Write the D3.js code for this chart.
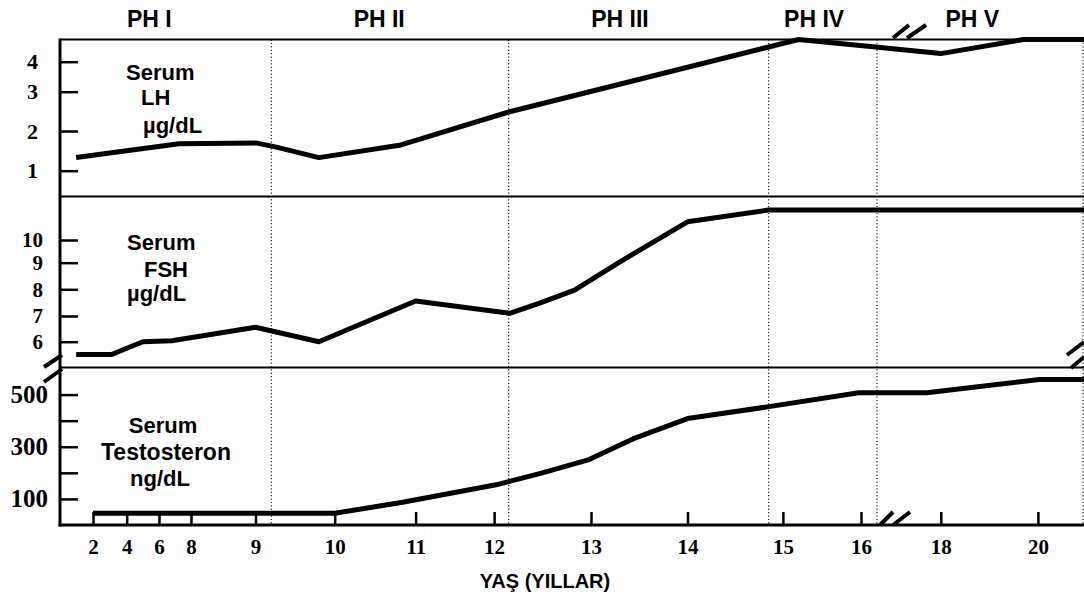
<!DOCTYPE html>
<html><head><meta charset="utf-8">
<script src="https://cdn.jsdelivr.net/npm/d3@7"></script>
<style>
html,body{margin:0;padding:0;background:#fff;}
svg{display:block;}
</style></head><body>
<svg id="chart" width="1084" height="603"></svg>
<script>
// Age axis (years); the figure stretches the axis unevenly
const ageTicks = [2, 4, 6, 8, 9, 10, 11, 12, 13, 14, 15, 16, 18, 20];

// Puberty phases
const phaseNames = ["PH I", "PH II", "PH III", "PH IV", "PH V"];
const phaseLabelAges = [5.4, 10.55, 13.3, 15.4, 18.65];
const phaseBounds = [9.2, 12.15, 14.85, 16.4];

// Serum LH (µg/dL)
const lhAges   = [1.0, 7.25, 9.0, 9.25, 9.8, 10.8, 12.16, 15.2, 16.3, 18.0, 19.7, 20.95];
const lhValues = [1.33, 1.68, 1.70, 1.60, 1.33, 1.64, 2.49, 4.74, 4.5, 4.27, 4.74, 4.74];
const lhTicks  = [1, 2, 3, 4];

// Serum FSH (µg/dL)
const fshAges   = [1.0, 3.1, 5.0, 6.8, 9.0, 9.8, 11.0, 12.16, 12.47, 12.83, 13.3, 14.0, 14.85, 20.95];
const fshValues = [5.5, 5.5, 6.0, 6.04, 6.56, 6.0, 7.56, 7.1, 7.48, 7.97, 9.04, 10.8, 11.32, 11.32];
const fshTicks  = [6, 7, 8, 9, 10];

// Serum testosteron (ng/dL)
const tesAges   = [2, 10, 10.84, 12.02, 12.47, 12.98, 13.44, 14.0, 14.82, 15.97, 17.65, 20.03, 20.95];
const tesValues = [45, 45, 87, 154, 197, 251, 331, 408, 452, 507, 507, 558, 558];
const tesTicks  = [100, 200, 300, 400, 500];
const tesTickLabels = ["100", "", "300", "", "500"];

const panelTitles = [
  ["Serum", "LH", "\u00b5g/dL"],
  ["Serum", "FSH", "\u00b5g/dL"],
  ["Serum", "Testosteron", "ng/dL"]
];

// ---- layout ----
const W = 1084, H = 603;
const L = 60, R = 1084;
const yTop = 39.5, yDiv1 = 196.5, yDiv2 = 367.5, yAxis = 525;
const ageStops = [93, 126.7, 159, 191, 255.5, 334.7, 415.6, 494.1, 591, 687.5, 782.9, 861, 940.8, 1037.9];

const SANS = "'Liberation Sans', Arial, Helvetica, sans-serif";
const SERIF = "'Liberation Serif', 'Times New Roman', serif";

const svg = d3.select("#chart");
svg.append("rect").attr("width", W).attr("height", H).attr("fill", "#fff");

const x = d3.scaleLinear().domain(ageTicks).range(ageStops);
const yLH = d3.scaleLinear().domain(lhTicks).range([170.7, 131, 91.7, 61.7]);
const yFSH = d3.scaleLinear().domain(fshTicks).range([341.7, 316, 289.3, 262.7, 240]);
const yT = d3.scaleLinear().domain([0, 600]).range([yAxis, 368.5]);

// phase separators (dotted)
svg.append("g").selectAll("line").data(phaseBounds).join("line")
  .attr("x1", d => x(d)).attr("x2", d => x(d))
  .attr("y1", yTop).attr("y2", yAxis)
  .attr("stroke", "#222").attr("stroke-width", 1.2)
  .attr("stroke-dasharray", "1.2,2.2");

// right edge (dotted)
svg.append("line").attr("x1", R - 1).attr("x2", R - 1)
  .attr("y1", yTop).attr("y2", yAxis)
  .attr("stroke", "#222").attr("stroke-width", 1.2)
  .attr("stroke-dasharray", "1.2,2.2");

// horizontal frame lines
[yTop, yDiv1, yDiv2].forEach(yy => {
  svg.append("line").attr("x1", L).attr("x2", R).attr("y1", yy).attr("y2", yy)
    .attr("stroke", "#000").attr("stroke-width", 2.2);
});

// phase labels
svg.append("g").selectAll("text").data(phaseNames).join("text")
  .attr("x", (d, i) => x(phaseLabelAges[i]))
  .attr("y", 27)
  .attr("text-anchor", "middle")
  .attr("font-family", SANS).attr("font-weight", "bold").attr("font-size", 23)
  .text(d => d);

// y axes
function styleAxis(g, labelSize) {
  g.select(".domain").remove();
  g.selectAll(".tick line").attr("stroke", "#000").attr("stroke-width", 2.5);
  g.selectAll(".tick text")
    .attr("font-family", SERIF).attr("font-weight", "bold")
    .attr("font-size", labelSize).attr("fill", "#000");
}

svg.append("g").attr("transform", `translate(${L},0)`)
  .call(d3.axisLeft(yLH).tickValues(lhTicks).tickSizeInner(-18).tickSizeOuter(0).tickPadding(22).tickFormat(d3.format("d")))
  .call(g => styleAxis(g, 22));

svg.append("g").attr("transform", `translate(${L},0)`)
  .call(d3.axisLeft(yFSH).tickValues(fshTicks).tickSizeInner(-18).tickSizeOuter(0).tickPadding(17).tickFormat(d3.format("d")))
  .call(g => styleAxis(g, 21));

svg.append("g").attr("transform", `translate(${L},0)`)
  .call(d3.axisLeft(yT).tickValues(tesTicks).tickSizeInner(-18).tickSizeOuter(0).tickPadding(12)
    .tickFormat((d, i) => tesTickLabels[i]))
  .call(g => styleAxis(g, 25));

// x axis
svg.append("g").attr("transform", `translate(0,${yAxis})`)
  .call(d3.axisBottom(x).tickValues(ageTicks).tickSizeInner(-13).tickSizeOuter(0).tickPadding(14).tickFormat(d3.format("d")))
  .call(g => {
    g.select(".domain").remove();
    g.selectAll(".tick line").attr("stroke", "#000").attr("stroke-width", 2.5);
    g.selectAll(".tick text")
      .attr("font-family", SERIF).attr("font-weight", "bold")
      .attr("font-size", 21).attr("fill", "#000");
  });

// axis lines
svg.append("line").attr("x1", L - 1.5).attr("x2", R).attr("y1", yAxis).attr("y2", yAxis)
  .attr("stroke", "#000").attr("stroke-width", 3);
svg.append("line").attr("x1", L).attr("x2", L).attr("y1", yTop - 1).attr("y2", yAxis + 1.5)
  .attr("stroke", "#000").attr("stroke-width", 3);

// x axis title
svg.append("text").attr("x", 545).attr("y", 588)
  .attr("text-anchor", "middle")
  .attr("font-family", SANS).attr("font-weight", "bold").attr("font-size", 20)
  .text("YA\u015e (YILLAR)");

// series lines
const series = [
  {ages: lhAges, values: lhValues, y: yLH},
  {ages: fshAges, values: fshValues, y: yFSH},
  {ages: tesAges, values: tesValues, y: yT}
];
series.forEach(s => {
  const pts = s.ages.map((a, i) => [a, s.values[i]]);
  svg.append("path").datum(pts)
    .attr("d", d3.line().x(d => x(d[0])).y(d => s.y(d[1])))
    .attr("fill", "none").attr("stroke", "#000")
    .attr("stroke-width", 5).attr("stroke-linejoin", "round");
});

// panel titles
const titleSpecs = [
  {lines: panelTitles[0], pos: [[126, 80, "start"], [141, 105, "start"], [143, 133, "start"]]},
  {lines: panelTitles[1], pos: [[127, 250, "start"], [144, 277, "start"], [127, 301, "start"]]},
  {lines: panelTitles[2], pos: [[163, 433, "middle"], [166, 460, "middle"], [160, 486, "middle"]]}
];
titleSpecs.forEach(t => {
  t.lines.forEach((txt, i) => {
    svg.append("text").attr("x", t.pos[i][0]).attr("y", t.pos[i][1])
      .attr("text-anchor", t.pos[i][2])
      .attr("font-family", SANS).attr("font-weight", "bold")
      .attr("font-size", txt === "Testosteron" ? 23 : 22)
      .text(txt);
  });
});

// axis break marks
const breaks = [
  [[893, 38], [909, 25]], [[907, 38], [926, 25]],
  [[880, 525], [893, 512]], [[893, 525], [910, 512]],
  [[44, 367], [62, 355]], [[44, 382], [62, 369]],
  [[1067, 355], [1084, 342]], [[1071, 368], [1084, 357]]
];
svg.append("g").selectAll("path").data(breaks).join("path")
  .attr("d", d => d3.line()(d))
  .attr("stroke", "#000").attr("stroke-width", 4).attr("fill", "none");
</script>
</body></html>
